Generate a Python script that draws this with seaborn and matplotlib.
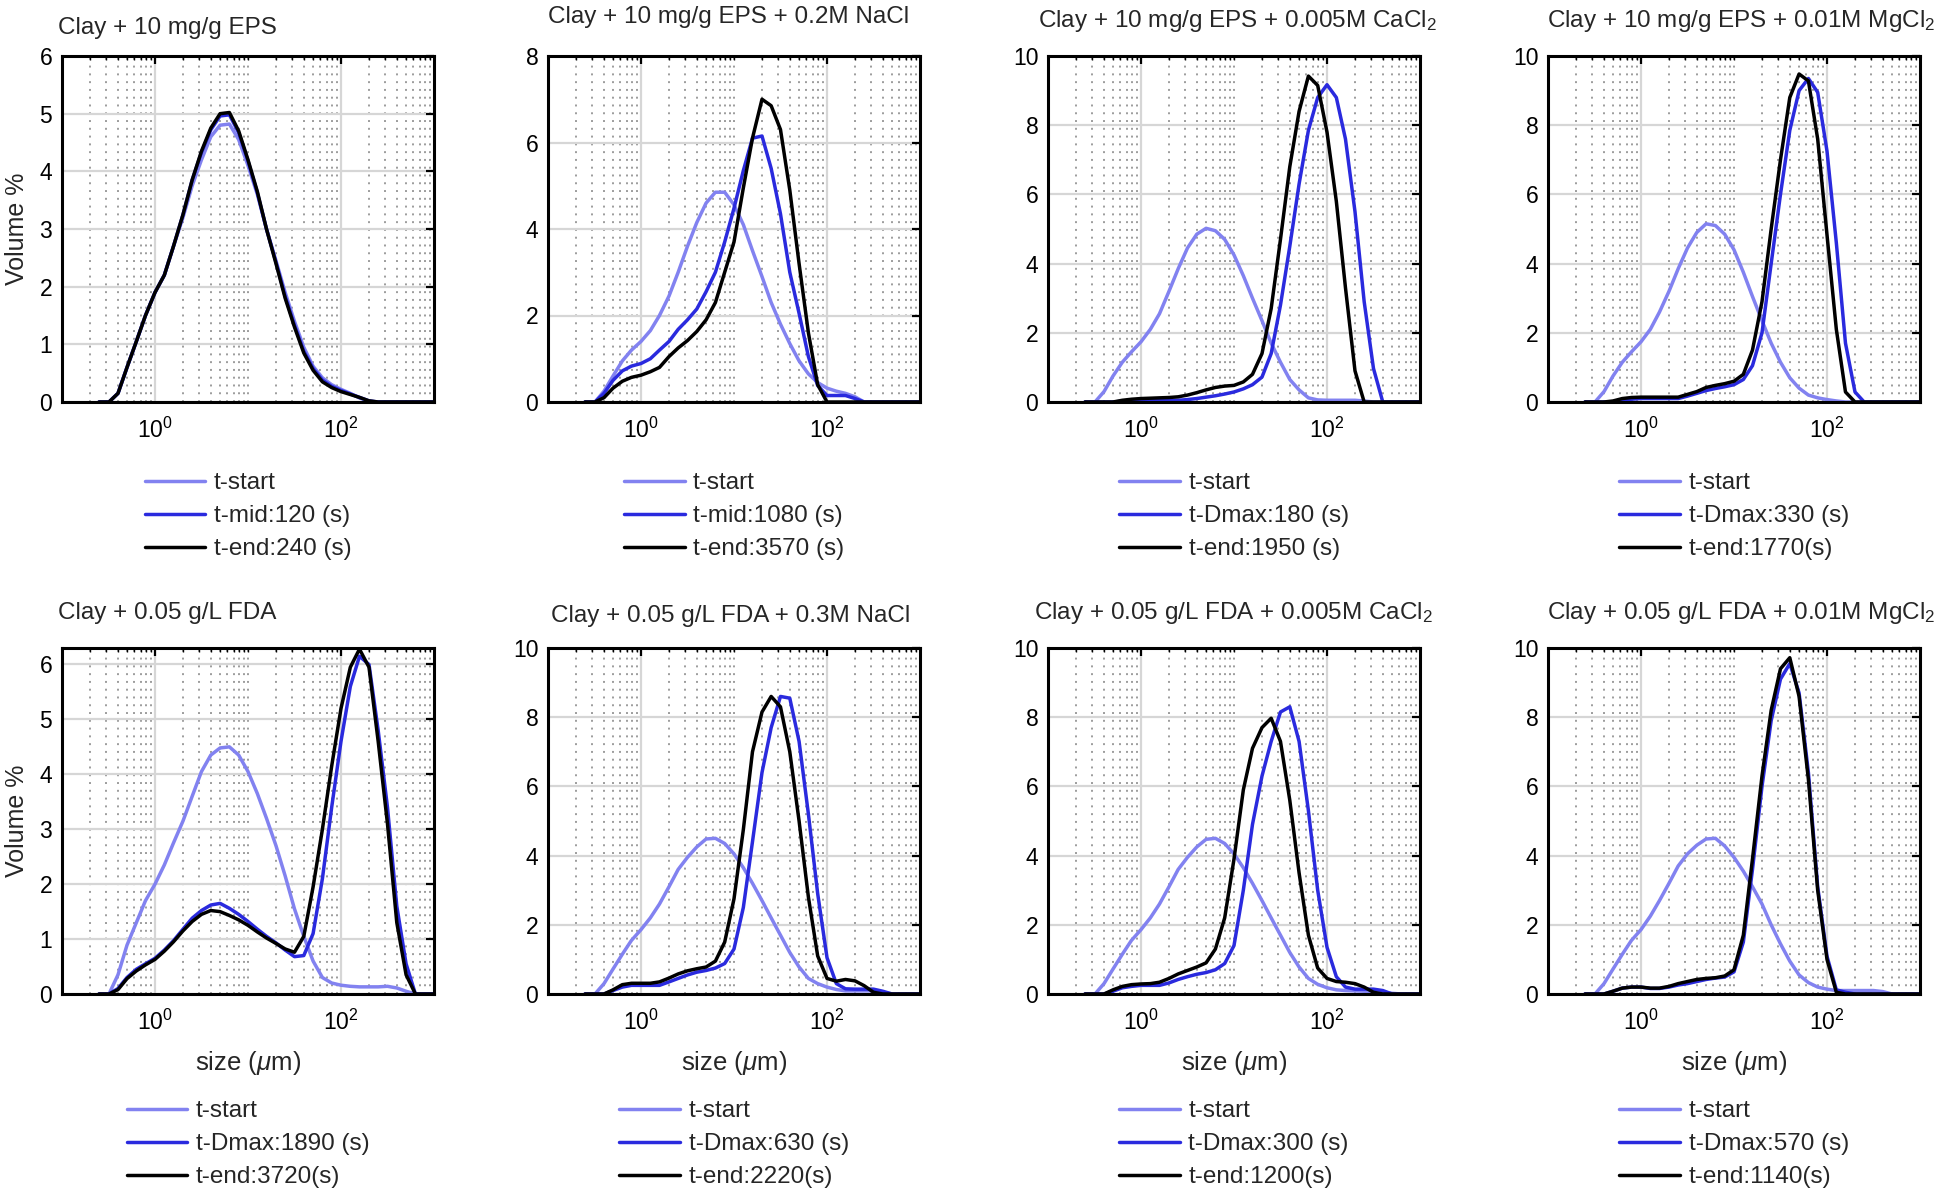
import numpy as np
import pandas as pd
import seaborn as sns
import matplotlib.pyplot as plt
from matplotlib.ticker import LogLocator, NullFormatter

# particle size bins (um), 0.1 decade apart
sizes = [0.25, 0.32, 0.40, 0.50, 0.63, 0.79, 1.0, 1.26, 1.58, 2.0, 2.51, 3.16,
         3.98, 5.01, 6.31, 7.94, 10.0, 12.6, 15.8, 20.0, 25.1, 31.6, 39.8, 50.1,
         63.1, 79.4, 100.0, 126, 158, 200, 251, 316, 398, 501, 631, 794, 1000]

# Clay + 10 mg/g EPS
eps_start = [0, 0, 0.15, 0.6, 1.05, 1.5, 1.9, 2.2, 2.7, 3.2, 3.75, 4.2, 4.6, 4.8, 4.82, 4.55, 4.1,
             3.6, 3.0, 2.45, 1.9, 1.4, 0.95, 0.62, 0.42, 0.3, 0.22, 0.15, 0.07, 0.01, 0, 0, 0, 0, 0, 0, 0]
eps_mid = [0, 0, 0.15, 0.6, 1.05, 1.5, 1.9, 2.2, 2.7, 3.25, 3.85, 4.33, 4.72, 4.96, 4.98, 4.67, 4.18,
           3.63, 3.0, 2.42, 1.83, 1.33, 0.88, 0.58, 0.38, 0.27, 0.2, 0.14, 0.08, 0.02, 0, 0, 0, 0, 0, 0, 0]
eps_end = [0, 0, 0.15, 0.6, 1.05, 1.5, 1.9, 2.2, 2.7, 3.25, 3.85, 4.35, 4.75, 5.0, 5.02, 4.7, 4.2,
           3.65, 3.0, 2.4, 1.8, 1.3, 0.85, 0.55, 0.35, 0.25, 0.18, 0.13, 0.08, 0.02, 0, 0, 0, 0, 0, 0, 0]

# Clay + 10 mg/g EPS + 0.2M NaCl
nacl_start = [0, 0, 0.25, 0.6, 0.95, 1.2, 1.4, 1.65, 2.0, 2.45, 3.0, 3.6, 4.15, 4.6, 4.85, 4.85, 4.56,
              4.1, 3.5, 2.9, 2.3, 1.8, 1.35, 0.95, 0.65, 0.45, 0.32, 0.25, 0.2, 0.12, 0, 0, 0, 0, 0, 0, 0]
nacl_mid = [0, 0, 0.2, 0.5, 0.72, 0.83, 0.89, 1.0, 1.2, 1.4, 1.68, 1.9, 2.15, 2.55, 3.0, 3.7, 4.48,
            5.35, 6.1, 6.15, 5.4, 4.35, 3.0, 2.05, 1.05, 0.38, 0.15, 0.15, 0.15, 0.08, 0, 0, 0, 0, 0, 0, 0]
nacl_end = [0, 0, 0.1, 0.32, 0.48, 0.57, 0.62, 0.7, 0.8, 1.05, 1.25, 1.42, 1.63, 1.9, 2.3, 3.0, 3.7,
            4.95, 6.1, 7.0, 6.85, 6.3, 4.9, 3.2, 1.6, 0.4, 0, 0, 0, 0, 0, 0, 0, 0, 0, 0, 0]

# Clay + 10 mg/g EPS + 0.005M CaCl2
ca_start = [0, 0, 0.3, 0.75, 1.15, 1.45, 1.74, 2.1, 2.55, 3.2, 3.85, 4.45, 4.85, 5.02, 4.95, 4.7, 4.25,
            3.65, 3.0, 2.35, 1.7, 1.15, 0.65, 0.35, 0.12, 0.06, 0.05, 0.05, 0.05, 0.05, 0.03, 0, 0, 0, 0, 0, 0]
ca_mid = [0, 0, 0, 0, 0.02, 0.03, 0.05, 0.05, 0.05, 0.05, 0.05, 0.07, 0.1, 0.14, 0.18, 0.23, 0.29,
          0.38, 0.5, 0.72, 1.4, 2.8, 4.5, 6.3, 7.85, 8.8, 9.17, 8.8, 7.6, 5.5, 2.9, 0.97, 0, 0, 0, 0, 0]
ca_end = [0, 0, 0, 0, 0.05, 0.08, 0.1, 0.11, 0.12, 0.13, 0.15, 0.2, 0.27, 0.35, 0.42, 0.46, 0.48,
          0.58, 0.8, 1.4, 2.7, 4.7, 6.8, 8.4, 9.42, 9.15, 7.8, 5.8, 3.3, 0.9, 0, 0, 0, 0, 0, 0, 0]

# Clay + 10 mg/g EPS + 0.01M MgCl2
mg_start = [0, 0, 0.3, 0.75, 1.15, 1.45, 1.74, 2.1, 2.6, 3.2, 3.85, 4.45, 4.9, 5.15, 5.1, 4.85, 4.4,
            3.75, 3.05, 2.35, 1.7, 1.15, 0.7, 0.4, 0.2, 0.12, 0.07, 0.03, 0, 0, 0, 0, 0, 0, 0, 0, 0]
mg_mid = [0, 0, 0, 0, 0.06, 0.08, 0.1, 0.1, 0.1, 0.1, 0.1, 0.17, 0.25, 0.33, 0.39, 0.44, 0.5,
          0.65, 1.05, 2.0, 4.0, 6.0, 7.85, 9.0, 9.35, 8.95, 7.25, 4.6, 1.7, 0.29, 0, 0, 0, 0, 0, 0, 0]
mg_end = [0, 0, 0, 0.03, 0.1, 0.13, 0.14, 0.14, 0.14, 0.14, 0.14, 0.22, 0.3, 0.42, 0.48, 0.53, 0.6,
          0.8, 1.5, 2.9, 5.0, 7.0, 8.8, 9.48, 9.28, 7.6, 4.83, 2.1, 0.29, 0, 0, 0, 0, 0, 0, 0, 0]

# Clay + 0.05 g/L FDA
fda_start = [0, 0, 0.35, 0.89, 1.3, 1.7, 2.0, 2.35, 2.75, 3.15, 3.6, 4.05, 4.35, 4.48, 4.5, 4.35, 4.05,
             3.65, 3.2, 2.7, 2.15, 1.55, 1.05, 0.6, 0.3, 0.2, 0.16, 0.14, 0.13, 0.13, 0.13, 0.14, 0.11, 0.05, 0, 0, 0]
fda_mid = [0, 0, 0.1, 0.3, 0.45, 0.55, 0.65, 0.8, 0.97, 1.18, 1.38, 1.52, 1.62, 1.65, 1.56, 1.45, 1.32,
           1.18, 1.05, 0.93, 0.8, 0.68, 0.7, 1.1, 2.1, 3.4, 4.6, 5.6, 6.15, 6.0, 4.8, 3.4, 1.6, 0.55, 0, 0, 0]
fda_end = [0, 0, 0.08, 0.28, 0.42, 0.53, 0.63, 0.78, 0.95, 1.15, 1.32, 1.45, 1.52, 1.5, 1.43, 1.35, 1.25,
           1.13, 1.02, 0.92, 0.82, 0.76, 1.05, 1.95, 3.0, 4.15, 5.2, 5.95, 6.28, 5.95, 4.6, 3.1, 1.3, 0.35, 0, 0, 0]

# Clay + 0.05 g/L FDA + 0.3M NaCl
fnacl_start = [0, 0, 0.3, 0.72, 1.15, 1.55, 1.86, 2.2, 2.6, 3.1, 3.6, 3.95, 4.25, 4.48, 4.5, 4.35, 4.05,
               3.65, 3.2, 2.7, 2.2, 1.7, 1.2, 0.78, 0.45, 0.3, 0.2, 0.13, 0.09, 0.09, 0.09, 0.09, 0.05, 0, 0, 0, 0]
fnacl_mid = [0, 0, 0, 0.1, 0.2, 0.25, 0.25, 0.25, 0.25, 0.35, 0.45, 0.55, 0.63, 0.68, 0.75, 0.88, 1.3,
             2.5, 4.4, 6.4, 7.7, 8.6, 8.55, 7.3, 5.2, 2.9, 1.05, 0.3, 0.15, 0.14, 0.14, 0.14, 0.08, 0, 0, 0, 0]
fnacl_end = [0, 0, 0, 0.12, 0.27, 0.31, 0.31, 0.31, 0.35, 0.46, 0.58, 0.67, 0.73, 0.78, 0.95, 1.5, 2.75,
             4.75, 7.0, 8.15, 8.6, 8.3, 7.0, 5.0, 2.8, 1.1, 0.45, 0.37, 0.42, 0.38, 0.24, 0.05, 0, 0, 0, 0, 0]

# Clay + 0.05 g/L FDA + 0.005M CaCl2
fca_start = [0, 0, 0.3, 0.72, 1.15, 1.55, 1.86, 2.2, 2.6, 3.1, 3.6, 3.95, 4.25, 4.47, 4.5, 4.35, 4.05,
             3.65, 3.2, 2.7, 2.2, 1.7, 1.2, 0.78, 0.45, 0.28, 0.18, 0.12, 0.1, 0.09, 0.08, 0.07, 0.05, 0.02, 0, 0, 0]
fca_mid = [0, 0, 0, 0.08, 0.18, 0.22, 0.25, 0.25, 0.25, 0.32, 0.42, 0.5, 0.57, 0.62, 0.7, 0.88, 1.4,
           3.0, 4.9, 6.3, 7.3, 8.15, 8.3, 7.3, 5.3, 3.0, 1.35, 0.5, 0.2, 0.14, 0.14, 0.14, 0.1, 0, 0, 0, 0]
fca_end = [0, 0, 0, 0.12, 0.22, 0.27, 0.29, 0.3, 0.34, 0.45, 0.58, 0.68, 0.78, 0.9, 1.3, 2.2, 3.9,
           5.9, 7.1, 7.7, 7.97, 7.3, 5.6, 3.5, 1.7, 0.75, 0.45, 0.36, 0.34, 0.3, 0.2, 0.05, 0, 0, 0, 0, 0]

# Clay + 0.05 g/L FDA + 0.01M MgCl2
fmg_start = [0, 0, 0.3, 0.72, 1.15, 1.55, 1.86, 2.25, 2.7, 3.2, 3.7, 4.05, 4.3, 4.48, 4.5, 4.28, 3.95,
             3.55, 3.1, 2.6, 2.0, 1.45, 0.95, 0.55, 0.33, 0.2, 0.14, 0.1, 0.1, 0.1, 0.1, 0.1, 0.07, 0, 0, 0, 0]
fmg_mid = [0, 0, 0, 0.08, 0.17, 0.2, 0.2, 0.16, 0.16, 0.2, 0.26, 0.3, 0.36, 0.42, 0.46, 0.49, 0.64,
           1.5, 3.6, 6.0, 7.9, 9.1, 9.55, 8.7, 6.4, 3.1, 1.09, 0.12, 0.05, 0, 0, 0, 0, 0, 0, 0, 0]
fmg_end = [0, 0, 0, 0.08, 0.17, 0.2, 0.2, 0.17, 0.17, 0.22, 0.3, 0.36, 0.42, 0.45, 0.47, 0.52, 0.7,
           1.7, 3.9, 6.3, 8.2, 9.4, 9.72, 8.6, 6.2, 3.0, 1.0, 0.05, 0, 0, 0, 0, 0, 0, 0, 0, 0]

titles = ["Clay + 10 mg/g EPS",
          "Clay + 10 mg/g EPS + 0.2M NaCl",
          "Clay + 10 mg/g EPS + 0.005M CaCl$_2$",
          "Clay + 10 mg/g EPS + 0.01M MgCl$_2$",
          "Clay + 0.05 g/L FDA",
          "Clay + 0.05 g/L FDA + 0.3M NaCl",
          "Clay + 0.05 g/L FDA + 0.005M CaCl$_2$",
          "Clay + 0.05 g/L FDA + 0.01M MgCl$_2$"]

labels = [["t-start", "t-mid:120 (s)", "t-end:240 (s)"],
          ["t-start", "t-mid:1080 (s)", "t-end:3570 (s)"],
          ["t-start", "t-Dmax:180 (s)", "t-end:1950 (s)"],
          ["t-start", "t-Dmax:330 (s)", "t-end:1770(s)"],
          ["t-start", "t-Dmax:1890 (s)", "t-end:3720(s)"],
          ["t-start", "t-Dmax:630 (s)", "t-end:2220(s)"],
          ["t-start", "t-Dmax:300 (s)", "t-end:1200(s)"],
          ["t-start", "t-Dmax:570 (s)", "t-end:1140(s)"]]

series = [(eps_start, eps_mid, eps_end),
          (nacl_start, nacl_mid, nacl_end),
          (ca_start, ca_mid, ca_end),
          (mg_start, mg_mid, mg_end),
          (fda_start, fda_mid, fda_end),
          (fnacl_start, fnacl_mid, fnacl_end),
          (fca_start, fca_mid, fca_end),
          (fmg_start, fmg_mid, fmg_end)]

ymax = [6, 8, 10, 10, 6.3, 10, 10, 10]
ystep = [1, 2, 2, 2, 1, 2, 2, 2]

colors = ["#8282f0", "#2a2ade", "#000000"]

sns.set_theme(style="white")
plt.rcParams["font.family"] = ["Liberation Sans", "DejaVu Sans"]
plt.rcParams["mathtext.fontset"] = "custom"
plt.rcParams["mathtext.rm"] = "Liberation Sans"
plt.rcParams["mathtext.it"] = "Liberation Sans:italic"
plt.rcParams["mathtext.bf"] = "Liberation Sans:bold"

fig = plt.figure(figsize=(19.49, 11.91), dpi=100)

W, H = 1949, 1191
lefts = [62, 548, 1048, 1548]
tops = [56, 648]
aw, ah = 372, 346

title_gap = [22, 33, 29, 29, 29, 26, 29, 29]
title_x = [-0.01, 0.485, 0.51, 0.52, -0.01, 0.49, 0.5, 0.52]

for i in range(8):
    r, c = divmod(i, 4)
    ax = fig.add_axes([lefts[c] / W, 1 - (tops[r] + ah) / H, aw / W, ah / H])
    ax.set_xscale("log")

    df = pd.DataFrame({"size": sizes * 3,
                       "vol": list(series[i][0]) + list(series[i][1]) + list(series[i][2]),
                       "run": [labels[i][0]] * len(sizes) + [labels[i][1]] * len(sizes)
                              + [labels[i][2]] * len(sizes)})
    sns.lineplot(data=df, x="size", y="vol", hue="run", hue_order=labels[i],
                 palette=colors, linewidth=2.5, ax=ax, legend=False, sort=False,
                 solid_joinstyle="round", solid_capstyle="round")

    ax.set_xlim(0.1, 1000)
    ax.set_ylim(0, ymax[i])
    ax.set_yticks(np.arange(0, int(ymax[i]) + 1, ystep[i]))
    ax.set_xticks([1, 100])
    ax.set_xticklabels(["$10^0$", "$10^2$"])
    ax.xaxis.set_minor_locator(LogLocator(base=10, subs=np.arange(1, 10), numticks=20))
    ax.xaxis.set_minor_formatter(NullFormatter())

    ax.set_axisbelow(True)
    ax.grid(True, which="major", color="#d6d6d6", lw=1.6, ls="-")
    ax.grid(True, which="minor", axis="x", color="#9c9c9c", lw=1.4, ls=(0, (1, 3)))

    ax.tick_params(which="both", direction="in", top=True, right=True, colors="black")
    ax.tick_params(which="major", length=6, width=1.6, labelsize=16.5)
    ax.tick_params(which="minor", length=3, width=1.0)
    ax.tick_params(axis="x", which="major", pad=11)
    ax.tick_params(axis="y", which="major", pad=7)
    for s in ax.spines.values():
        s.set_color("black")
        s.set_linewidth(2.2)

    ax.text(title_x[i], 1 + title_gap[i] / ah, titles[i], transform=ax.transAxes,
            ha="left" if c == 0 else "center", va="baseline", fontsize=17.5)

    if c == 0:
        ax.set_ylabel("Volume %", fontsize=18)
        ax.yaxis.set_label_coords(-0.121, 0.5)
        ax.yaxis.label.set_va("center")
    else:
        ax.set_ylabel("")
    if r == 1:
        ax.set_xlabel("size ($\\mu$m)", fontsize=18.5)
        ax.xaxis.set_label_coords(0.5, -0.16)
        leg_y = -0.434
    else:
        ax.set_xlabel("")
        leg_y = -0.33

    ax.legend(ax.get_lines()[:3], labels[i], loc="center", bbox_to_anchor=(0.5, leg_y),
              frameon=False, fontsize=17.5, handlelength=2.5, handletextpad=0.35,
              labelspacing=0.45, borderaxespad=0)

fig.savefig("out.png", dpi=100)
